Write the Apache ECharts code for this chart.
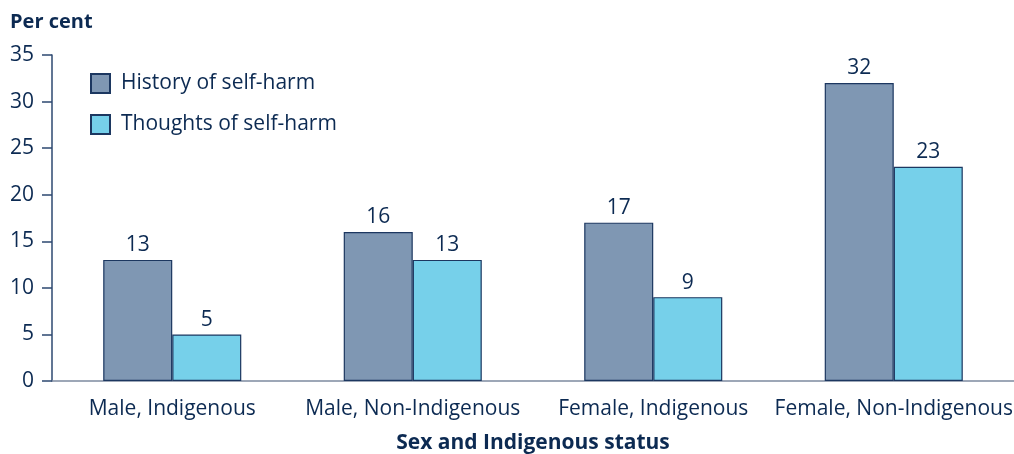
<!DOCTYPE html>
<html>
<head>
<meta charset="utf-8">
<script src="https://cdn.jsdelivr.net/npm/echarts@6/dist/echarts.min.js"></script>
<style>
  html, body { margin: 0; padding: 0; background: #fff; }
  #chart { width: 1014px; height: 454px; }
</style>
</head>
<body>
<div id="chart"></div>
<script>
var categories = ['Male, Indigenous', 'Male, Non-Indigenous', 'Female, Indigenous', 'Female, Non-Indigenous'];
var historyVals = [13, 16, 17, 32];
var thoughtsVals = [5, 13, 9, 23];
var yTicks = [0, 5, 10, 15, 20, 25, 30, 35];

(function () {
    var txt = '#0c2a52';
    var font = 'Open Sans';
    var myChart = echarts.init(document.getElementById('chart'));
    var option = {
        animation: false,
        textStyle: { fontFamily: font, color: txt },
        grid: { left: 52, right: 0, top: 55, bottom: 73, containLabel: false, outerBoundsMode: 'none' },
        legend: {
            left: 85, top: 68, orient: 'vertical', itemGap: 20,
            itemWidth: 19, itemHeight: 19,
            icon: 'rect',
            textStyle: { fontFamily: font, fontSize: 21, color: txt, padding: [0, 0, 0, 6] },
            data: ['History of self-harm', 'Thoughts of self-harm']
        },
        xAxis: {
            type: 'category',
            data: categories,
            name: 'Sex and Indigenous status',
            nameLocation: 'middle',
            nameGap: 52,
            nameTextStyle: { fontFamily: font, fontWeight: 'bold', fontSize: 21, color: txt },
            axisTick: { show: false },
            axisLine: { lineStyle: { color: '#7d8aa0', width: 1.5 } },
            axisLabel: { fontSize: 21, color: txt, margin: 18, interval: 0 }
        },
        yAxis: {
            type: 'value',
            min: 0, max: 35, interval: 5,
            name: 'Per cent',
            nameLocation: 'end',
            nameGap: 23,
            nameTextStyle: { fontFamily: font, fontWeight: 'bold', fontSize: 20, color: txt, align: 'left', padding: [0, 0, 0, -42] },
            axisLine: { show: true, lineStyle: { color: '#2d4870', width: 1.5 } },
            axisTick: { show: true, length: 10, lineStyle: { color: '#2d4870', width: 1.5 } },
            axisLabel: {
                fontSize: 21, color: txt, margin: 18,
                formatter: function (v) { return yTicks.indexOf(v) >= 0 ? String(v) : ''; }
            },
            splitLine: { show: false }
        },
        series: [{
            name: 'History of self-harm',
            type: 'bar',
            data: historyVals,
            barWidth: '28.7%',
            barGap: '0%',
            itemStyle: { color: '#7f97b3', borderColor: '#1c3760', borderWidth: 1.2 },
            label: { show: true, position: 'top', fontSize: 21, color: txt, distance: 4 }
        }, {
            name: 'Thoughts of self-harm',
            type: 'bar',
            data: thoughtsVals,
            barWidth: '28.7%',
            barGap: '0%',
            itemStyle: { color: '#76d0ea', borderColor: '#1c3760', borderWidth: 1.2 },
            label: { show: true, position: 'top', fontSize: 21, color: txt, distance: 4 }
        }]
    };
    myChart.setOption(option);
})();
</script>
</body>
</html>
